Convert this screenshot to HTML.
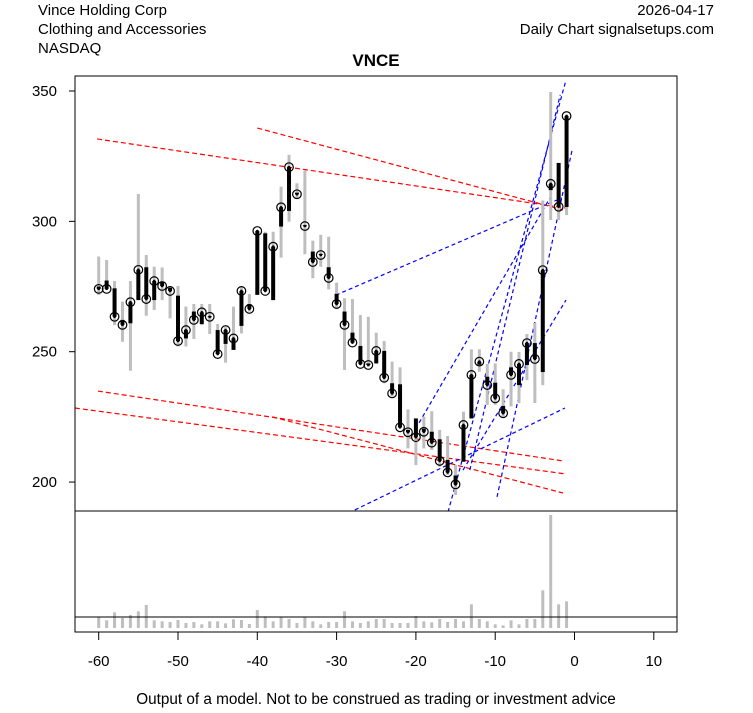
<!DOCTYPE html>
<html><head><meta charset="utf-8"><style>
body{margin:0;background:#fff;}
svg text{font-family:"Liberation Sans",Arial,sans-serif;}
</style></head><body>
<svg id="c" width="753" height="708" viewBox="0 0 753 708" xmlns="http://www.w3.org/2000/svg">
<defs><clipPath id="pc"><rect x="75" y="76" width="602" height="435"/></clipPath></defs>
<text x="38" y="15" font-size="15">Vince Holding Corp</text>
<text x="38" y="34" font-size="15">Clothing and Accessories</text>
<text x="38" y="53" font-size="15">NASDAQ</text>
<text x="714" y="15" font-size="15" text-anchor="end">2026-04-17</text>
<text x="714" y="34" font-size="15" text-anchor="end">Daily Chart signalsetups.com</text>
<text x="376" y="66" font-size="17" font-weight="bold" text-anchor="middle">VNCE</text>
<text x="376" y="704" font-size="15.3" text-anchor="middle">Output of a model. Not to be construed as trading or investment advice</text>
<g id="price" clip-path="url(#pc)"></g>
<g id="vol"></g>
<g id="axes"></g>
</svg>
<script>
const days=[-60,-59,-58,-57,-56,-55,-54,-53,-52,-51,-50,-49,-48,-47,-46,-45,-44,-43,-42,-41,-40,-39,-38,-37,-36,-35,-34,-33,-32,-31,-30,-29,-28,-27,-26,-25,-24,-23,-22,-21,-20,-19,-18,-17,-16,-15,-14,-13,-12,-11,-10,-9,-8,-7,-6,-5,-4,-3,-2,-1];
const opens=[275,277.3,274.3,262.2,260.9,269.8,282.4,269.8,276.9,274.5,271.5,255.1,265.4,260.6,263.6,258.3,253,250.7,259.9,268.3,271.8,295.4,269.8,298,304,311,298.5,288.4,287.5,282.4,272.2,265.4,257.3,252.2,245.5,245.5,250.3,237.9,237.5,220,224.4,220.5,219.3,216.4,208.5,202.5,207.8,224.4,245,240.4,238.1,229.2,244,237.2,244.9,253.3,242.2,312,322.4,305.5];
const highs=[286.5,285.2,277.1,269.2,277.1,310.5,287.1,282.6,282.3,275.2,275.2,267.3,268.3,268.3,268.3,260.6,259.4,267.3,275,272.1,296.7,296,296,313.3,325.5,314.6,319.5,292.6,294.8,294.1,276.5,270.5,270.2,264.1,263.4,257.3,254.1,246.2,244,227.9,224.4,225.1,227.2,220,217.7,206.5,227,250.9,250.9,245.3,245.5,235.6,250,249.9,256.8,261,308,349.6,322.4,341];
const lows=[271.8,274,260.2,253.8,242.7,269.8,263.8,266,269.8,262.8,252,252,254.9,260.2,256.8,249.1,245.8,250.7,257,265.4,271.8,273.3,269.8,286.1,299.9,308.9,287.4,278.2,282.6,273.9,266.3,243,253.5,245.3,244.3,245.5,237.9,232.8,220.6,212.9,206.5,212.9,212.3,205.9,202.7,195,207.8,224.4,242.3,229.6,229.6,225.1,229,230.3,239.1,230.3,237.2,300.5,300.5,302.4];
const closes=[274.1,274.1,263.4,260.3,269,281.4,270.2,277.1,275.2,273.3,254.1,258.3,262.2,265.1,263.4,249.1,258.3,255.1,273.3,266.4,296.3,273.3,290.3,305.4,320.8,310.4,298.2,284.4,287.1,278.3,268.3,260.3,253.5,245.3,244.9,250.3,240,234,221,219.1,217.2,219.3,215.1,208.1,203.7,199.1,221.9,241.1,246.2,237.2,232.1,226.4,241.1,245.3,253.3,247.2,281.3,314.4,305.6,340.4];
const volumes=[33,23,47,30,39,50,69,23,20,18,24,15,18,11,20,20,14,26,24,12,54,35,20,33,27,15,33,20,11,18,18,50,20,15,20,27,27,15,15,15,36,20,17,27,18,27,20,71,27,20,11,8,23,11,27,27,113,339,71,80];
const redLines=[[-60.2,331.6,-1.07,305.1],[-40,335.8,-1.45,304.4],[-60.1,234.9,-1.45,208.1],[-63,228.4,-1.07,203.1],[-38.1,225,-1.45,195.8]];
const blueLines=[[-30.1,271.7,-1.58,309],[-19.6,222.7,-3.09,309],[-15.95,188.5,-1.07,354.2],[-9.77,194.3,-0.3,327.4],[-27.7,189.3,-1.2,228.4],[-14.06,204.6,-1.07,269.8],[-13.2,204.6,-1.8,348.5]];
const yTicks=[200,250,300,350];
const xTicks=[-60,-50,-40,-30,-20,-10,0,10];

const NS="http://www.w3.org/2000/svg";
const X=d=>574.5+d*7.93;
const Y=p=>91+(350-p)*2.607;
const VY=v=>628-v/3;
function mk(tag,parent,attrs){const e=document.createElementNS(NS,tag);for(const k in attrs)e.setAttribute(k,attrs[k]);parent.appendChild(e);return e;}
const P=document.getElementById('price'),V=document.getElementById('vol'),A=document.getElementById('axes');

redLines.forEach(l=>{const e=mk('line',P,{x1:X(l[0]),y1:Y(l[1]),x2:X(l[2]),y2:Y(l[3]),stroke:'#ff0000','stroke-width':1.2,'stroke-dasharray':'5,3'});

});
blueLines.forEach(l=>{const e=mk('line',P,{x1:X(l[0]),y1:Y(l[1]),x2:X(l[2]),y2:Y(l[3]),stroke:'#0000ff','stroke-width':1.2,'stroke-dasharray':'4,3'});

});

days.forEach((d,i)=>{
const x=X(d);
const g=mk('line',P,{x1:x,x2:x,y1:Y(highs[i]),y2:Y(lows[i]),stroke:'#bebebe','stroke-width':3});


const t=Math.min(Y(opens[i]),Y(closes[i])),b=Math.max(Y(opens[i]),Y(closes[i]));
const bd=mk('rect',P,{x:x-2,y:t,width:4,height:Math.max(b-t,1),fill:'#000'});


const c=mk('circle',P,{cx:x,cy:Y(closes[i]),r:4.3,fill:'none',stroke:'#000','stroke-width':1.2});


mk('circle',P,{cx:x,cy:Y(closes[i]),r:1.3,fill:'#000'});
const v=mk('line',V,{x1:x,x2:x,y1:VY(volumes[i]),y2:628,stroke:'#bebebe','stroke-width':3});


});

mk('rect',A,{x:75,y:76,width:602,height:556,fill:'none',stroke:'#000','stroke-width':1});
mk('line',A,{x1:75,x2:677,y1:511,y2:511,stroke:'#000','stroke-width':1});
mk('line',A,{x1:75,x2:677,y1:617,y2:617,stroke:'#000','stroke-width':1});
yTicks.forEach(p=>{mk('line',A,{x1:69,x2:75,y1:Y(p),y2:Y(p),stroke:'#000'});
const t=mk('text',A,{x:57,y:Y(p)+5,'font-size':15,'text-anchor':'end'});t.textContent=p;

});
xTicks.forEach(d=>{mk('line',A,{x1:X(d),x2:X(d),y1:632,y2:640,stroke:'#000'});
const t=mk('text',A,{x:X(d),y:666,'font-size':15,'text-anchor':'middle'});t.textContent=d;

});
</script>
</body></html>
